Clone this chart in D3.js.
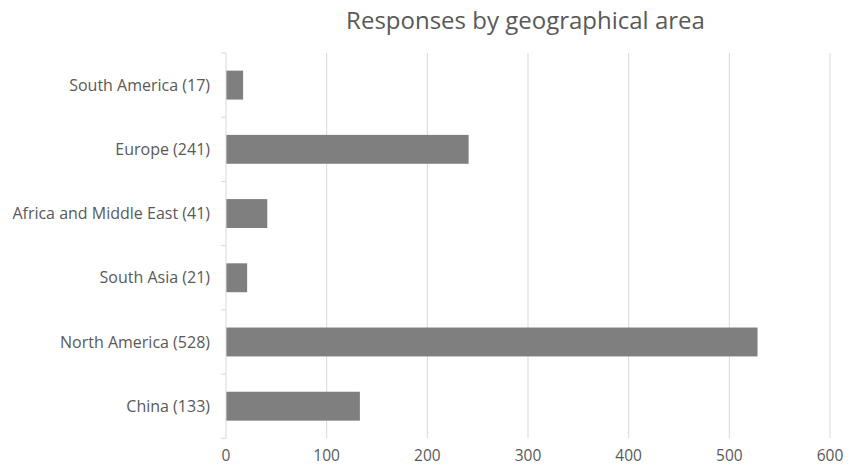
<!DOCTYPE html>
<html>
<head>
<meta charset="utf-8">
<script src="https://cdn.jsdelivr.net/npm/d3@7"></script>
<style>
  body { margin: 0; background: #fff; }
  text { font-family: "Open Sans", sans-serif; fill: #595959; }
</style>
</head>
<body>
<svg id="chart"></svg>
<script>
const width = 858;
const height = 465;
const margin = {top: 53, right: 28, bottom: 27, left: 226};

const regions = ['South America', 'Europe', 'Africa and Middle East', 'South Asia', 'North America', 'China'];
const responses = [17, 241, 41, 21, 528, 133];
const xTicks = [0, 100, 200, 300, 400, 500, 600];
const title = 'Responses by geographical area';

const labels = regions.map((r, i) => `${r} (${responses[i]})`);
const plotBottom = 438.3;

const svg = d3.select('#chart')
  .attr('width', width)
  .attr('height', height);

const x = d3.scaleLinear().domain([0, 600]).range([margin.left, 830]);
const y = d3.scaleBand().domain(labels).range([margin.top, plotBottom]).paddingInner(0.55).paddingOuter(0.275);

// gridlines
svg.append('g')
  .selectAll('line')
  .data(xTicks.slice(1))
  .enter()
  .append('line')
  .attr('x1', d => x(d))
  .attr('x2', d => x(d))
  .attr('y1', margin.top)
  .attr('y2', plotBottom)
  .attr('stroke', '#d9d9d9')
  .attr('stroke-width', 1);

// bars
svg.append('g')
  .selectAll('rect')
  .data(responses)
  .enter()
  .append('rect')
  .attr('x', x(0))
  .attr('y', (d, i) => y(labels[i]))
  .attr('width', d => x(d) - x(0))
  .attr('height', y.bandwidth())
  .attr('fill', '#7f7f7f');

// left axis line and category boundary ticks
const yAxis = svg.append('g');
yAxis.append('line')
  .attr('x1', x(0)).attr('x2', x(0))
  .attr('y1', margin.top).attr('y2', plotBottom)
  .attr('stroke', '#d9d9d9');
const bounds = d3.range(labels.length + 1).map(i => margin.top + i * (plotBottom - margin.top) / labels.length);
yAxis.selectAll('.tick-mark')
  .data(bounds)
  .enter()
  .append('line')
  .attr('class', 'tick-mark')
  .attr('x1', x(0) - 5).attr('x2', x(0))
  .attr('y1', d => d).attr('y2', d => d)
  .attr('stroke', '#d9d9d9');

yAxis.selectAll('text')
  .data(labels)
  .enter()
  .append('text')
  .attr('x', x(0) - 16)
  .attr('y', d => y(d) + y.bandwidth() / 2)
  .attr('dy', '0.35em')
  .attr('text-anchor', 'end')
  .style('font-size', '16px')
  .text(d => d);

// bottom tick labels
svg.append('g')
  .selectAll('text')
  .data(xTicks)
  .enter()
  .append('text')
  .attr('x', d => x(d))
  .attr('y', 460.5)
  .attr('text-anchor', 'middle')
  .style('font-size', '15.5px')
  .text(d => d);

svg.append('text')
  .attr('x', 525.5)
  .attr('y', 29.3)
  .attr('text-anchor', 'middle')
  .style('font-size', '24px')
  .text(title);
</script>
</body>
</html>
